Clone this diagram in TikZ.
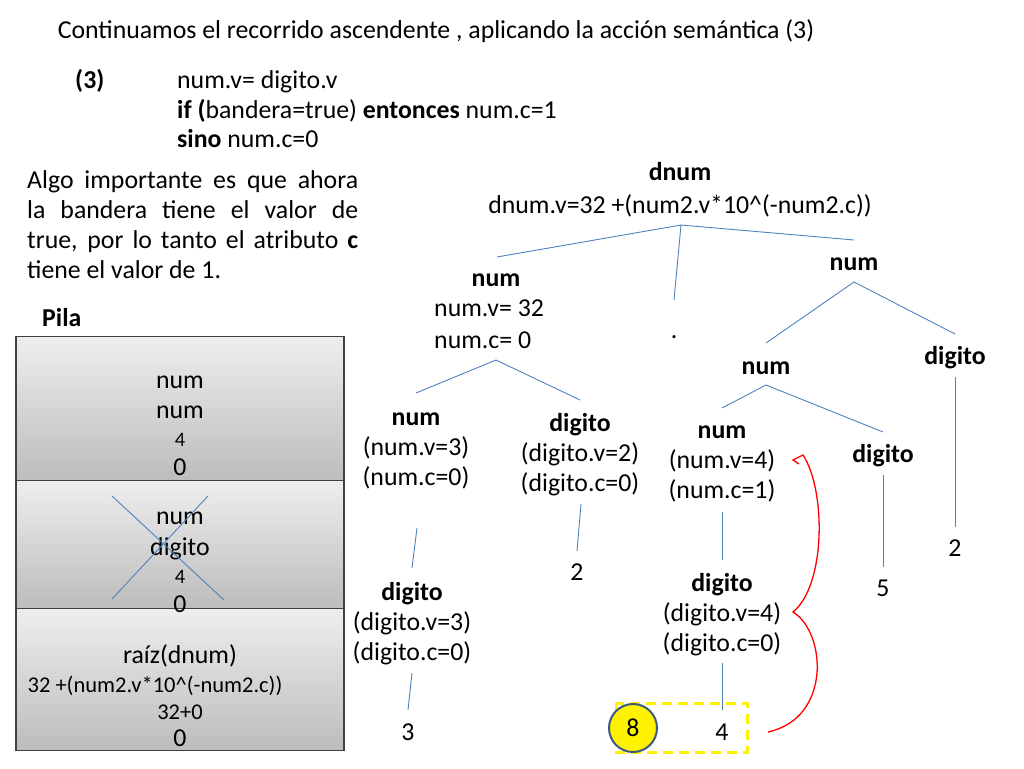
\documentclass[tikz,border=0pt]{standalone}
\usepackage{fontspec}
\setmainfont{Carlito}
\usetikzlibrary{positioning}
\definecolor{treeblue}{HTML}{4F81BD}
\definecolor{boxtop}{HTML}{EEEEEE}
\definecolor{boxbot}{HTML}{BCBCBC}
\definecolor{ringblue}{HTML}{3B5A7E}
\tikzset{
  txt/.style={font=\fontsize{25.8}{30}\selectfont, inner sep=0pt},
  sml/.style={font=\fontsize{20.5}{24}\selectfont, inner sep=0pt},
  mid/.style={font=\fontsize{22.5}{27}\selectfont, inner sep=0pt},
  edge/.style={treeblue, line width=0.9pt},
  pilabox/.style={draw=black!75, line width=1.3pt, top color=boxtop, bottom color=boxbot, minimum width=328, inner sep=0pt},
}

\begin{document}
\begin{tikzpicture}[x=1pt, y=-1pt]
  \useasboundingbox (0,0) rectangle (1024,768);

  % texto de arriba
  \node[txt, anchor=base] (titulo) at (436,38) {Continuamos el recorrido ascendente , aplicando la acción semántica (3)};
  \node[txt, anchor=base west] (regla) at (75,88) {\textbf{(3)}};
  \node[txt, anchor=base west] (r1) at (177,88) {num.v= digito.v};
  \node[txt, anchor=base west] (r2) at (177,118) {\textbf{if (}bandera=true) \textbf{entonces} num.c=1};
  \node[txt, anchor=base west] (r3) at (177,147) {\textbf{sino} num.c=0};
  \node[txt, anchor=north west, text width=331pt, align=justify] (nota) at (27,170)
    {Algo importante es que ahora\linebreak la bandera tiene el valor de\linebreak true, por lo tanto el atributo \textbf{c}\linebreak tiene el valor de 1.};

  % pila
  \node[txt, anchor=base west] (pila) at (42,326) {\textbf{Pila}};
  \node[pilabox, minimum height=144, anchor=north] (caja1) at (180,336) {};
  \node[pilabox, minimum height=128, anchor=north] (caja2) at (180,480) {};
  \node[pilabox, minimum height=142, anchor=north] (caja3) at (180,608) {};
  \node[txt, anchor=base] at (180,388) {num};
  \node[txt, anchor=base] at (180,418) {num};
  \node[sml, anchor=base] at (180,446) {4};
  \node[txt, anchor=base] at (180,475) {0};
  \node[txt, anchor=base] at (180,524) {num};
  \node[txt, anchor=base] at (180,555) {digito};
  \node[sml, anchor=base] at (180,583) {4};
  \node[txt, anchor=base] at (180,612) {0};
  \node[txt, anchor=base] at (180,663) {raíz(dnum)};
  \node[mid, anchor=base] at (155,692) {32 +(num2.v*10\^{}(-num2.c))};
  \node[mid, anchor=base] at (180,719) {32+0};
  \node[txt, anchor=base] at (180,746) {0};
  \draw[edge] (112,496) -- (224,600);
  \draw[edge] (208,496) -- (112,599);

  % arbol
  \node[txt, anchor=base] (dnum) at (680,180) {\textbf{dnum}};
  \node[txt, anchor=base] (dnumv) at (680,213) {dnum.v=32 +(num2.v*10\^{}(-num2.c))};
  \node[txt, anchor=base] (numL) at (496,286) {\textbf{num}};
  \node[txt, anchor=base west] (numLv) at (434,316) {num.v= 32};
  \node[txt, anchor=base west] (numLc) at (434,348) {num.c= 0};
  \node[txt, anchor=base] (punto) at (674,338) {.};
  \node[txt, anchor=base] (numR) at (854,270) {\textbf{num}};
  \node[txt, anchor=base] (numM) at (766,374) {\textbf{num}};
  \node[txt, anchor=base] (digR) at (955,364) {\textbf{digito}};
  \node[txt, anchor=base, align=center] (num3) at (416,485) {\textbf{num}\\(num.v=3)\\(num.c=0)};
  \node[txt, anchor=base, align=center] (dig2) at (580,491) {\textbf{digito}\\(digito.v=2)\\(digito.c=0)};
  \node[txt, anchor=base, align=center] (num4) at (722,498) {\textbf{num}\\(num.v=4)\\(num.c=1)};
  \node[txt, anchor=base] (dig5) at (883,462) {\textbf{digito}};
  \node[txt, anchor=base, align=center] (dig3) at (412,660) {\textbf{digito}\\(digito.v=3)\\(digito.c=0)};
  \node[txt, anchor=base, align=center] (dig4) at (722,651) {\textbf{digito}\\(digito.v=4)\\(digito.c=0)};
  \node[txt, anchor=base] (tres) at (408,740) {3};
  \node[txt, anchor=base] (dos) at (577,580) {2};
  \node[txt, anchor=base] (cuatro) at (722,740) {4};
  \node[txt, anchor=base] (cinco) at (883,596) {5};
  \node[txt, anchor=base] (dosR) at (955,556) {2};

  % puntas de las ramas
  \coordinate (dnumB) at (681,225);
  \coordinate (numLT) at (497,257);
  \coordinate (puntoT) at (674,300);
  \coordinate (numRT) at (854,240);
  \coordinate (numRB) at (854,282);
  \coordinate (numMT) at (766,343);
  \coordinate (digRT) at (955,334);
  \coordinate (digRB) at (955,377);
  \coordinate (dosRT) at (955,527);
  \coordinate (numLB) at (496,360);
  \coordinate (num3T) at (416,393);
  \coordinate (dig2T) at (580,400);
  \coordinate (numMB) at (766,385);
  \coordinate (num4T) at (722,408);
  \coordinate (dig5T) at (883,432);
  \coordinate (dig5B) at (883,475);
  \coordinate (cincoT) at (883,567);
  \coordinate (num3B) at (417,528);
  \coordinate (dig3T) at (412,568);
  \coordinate (dig3B) at (412,673);
  \coordinate (tresT) at (408,710);
  \coordinate (dig2B) at (581,504);
  \coordinate (dosT) at (577,551);
  \coordinate (num4B) at (722,512);
  \coordinate (dig4T) at (722,560);
  \coordinate (dig4B) at (722,663);
  \coordinate (cuatroT) at (722,710);

  \draw[edge] (numLT) -- (dnumB) -- (numRT);
  \draw[edge] (dnumB) -- (puntoT);
  \draw[edge] (numMT) -- (numRB) -- (digRT);
  \draw[edge] (digRB) -- (dosRT);
  \draw[edge] (num3T) -- (numLB) -- (dig2T);
  \draw[edge] (num4T) -- (numMB) -- (dig5T);
  \draw[edge] (dig5B) -- (cincoT);
  \draw[edge] (num3B) -- (dig3T);
  \draw[edge] (dig3B) -- (tresT);
  \draw[edge] (dig2B) -- (dosT);
  \draw[edge] (num4B) -- (dig4T);
  \draw[edge] (dig4B) -- (cuatroT);

  % resultado
  \draw[yellow, line width=3pt, dash pattern=on 10pt off 6pt] (616,703) rectangle (747,752);
  \node[txt, circle, draw=ringblue, line width=2pt, fill=yellow, minimum size=48] (ocho) at (633,728) {8};
  \draw[red, line width=1.3pt] (799,464) -- (793,460) -- (803,455)
    .. controls (826,490) and (826,585) .. (793,612)
    .. controls (826,632) and (832,718) .. (768,732);
\end{tikzpicture}
\end{document}
